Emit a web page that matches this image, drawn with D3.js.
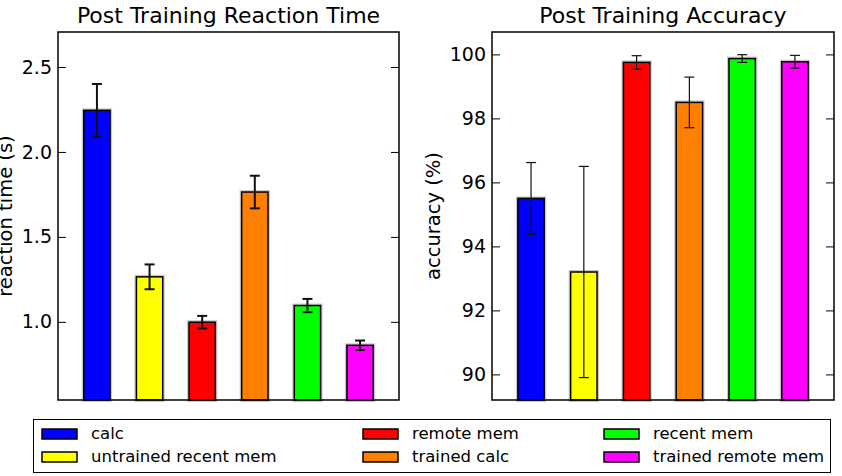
<!DOCTYPE html>
<html>
<head>
<meta charset="utf-8">
<script src="https://cdn.jsdelivr.net/npm/d3@7/dist/d3.min.js"></script>
<style>
  body { margin: 0; background: #fff; }
  svg { display: block; font-family: "DejaVu Sans", sans-serif; }
  .tick text { font-size: 19px; fill: #000; }
  .legend text { font-family: "DejaVu Sans", sans-serif; font-size: 16.5px; }
</style>
</head>
<body>
<svg id="chart" width="842" height="476"></svg>
<script>
'use strict';

var categories = ["calc", "untrained recent mem", "remote mem", "trained calc", "recent mem", "trained remote mem"];
var colors     = ["#0000ff", "#ffff00", "#ff0000", "#ff8000", "#00ff00", "#ff00ff"];

var rtValues  = [2.245, 1.265, 0.998, 1.764, 1.096, 0.862];
var rtErrors  = [0.155, 0.073, 0.037, 0.096, 0.039, 0.028];
var rtTicks   = [1.0, 1.5, 2.0, 2.5];

var accValues = [95.5, 93.2, 99.75, 98.5, 99.87, 99.77];
var accErrors = [1.12, 3.3, 0.21, 0.79, 0.12, 0.2];
var accTicks  = [90, 92, 94, 96, 98, 100];

var legendOrder = [0, 2, 4, 1, 3, 5];

var svg = d3.select("#chart");

function bar_panel(cfg) {
    var left = cfg.left, top = 32, width = cfg.width, height = 368;

    var g = svg.append("g").attr("transform", "translate(" + left + "," + top + ")");

    var x = d3.scalePoint().domain(d3.range(categories.length)).range([0, width]).padding(0.74);
    var y = d3.scaleLinear().domain(cfg.yDomain).range([height, 0]);
    var bw = x.step() * 0.5;

    // soft gray halo behind bars, as in the original raster
    g.selectAll("rect.halo")
        .data(cfg.values)
        .enter().append("rect")
            .attr("class", "halo")
            .attr("x", function(d, i){ return x(i) - bw / 2; })
            .attr("y", function(d){ return y(d); })
            .attr("width", bw)
            .attr("height", function(d){ return height - y(d); })
            .style("fill", "none")
            .style("stroke", "#c8c8c8")
            .style("stroke-width", 4);

    g.selectAll("rect.bar")
        .data(cfg.values)
        .enter().append("rect")
            .attr("class", "bar")
            .attr("x", function(d, i){ return x(i) - bw / 2; })
            .attr("y", function(d){ return y(d); })
            .attr("width", bw)
            .attr("height", function(d){ return height - y(d); })
            .style("fill", function(d, i){ return colors[i]; })
            .style("stroke", "#000")
            .style("stroke-width", 1.5);

    // error bars
    var eb = g.selectAll("g.err")
        .data(cfg.values)
        .enter().append("g")
            .attr("class", "err")
            .style("stroke", "#111")
            .style("stroke-width", cfg.errWidth);
    eb.append("line")
        .attr("x1", function(d, i){ return x(i); })
        .attr("x2", function(d, i){ return x(i); })
        .attr("y1", function(d, i){ return y(d + cfg.errors[i]); })
        .attr("y2", function(d, i){ return y(d - cfg.errors[i]); });
    [1, -1].forEach(function(s){
        eb.append("line")
            .attr("x1", function(d, i){ return x(i) - 5; })
            .attr("x2", function(d, i){ return x(i) + 5; })
            .attr("y1", function(d, i){ return y(d + s * cfg.errors[i]); })
            .attr("y2", function(d, i){ return y(d + s * cfg.errors[i]); });
    });

    // frame
    g.append("rect")
        .attr("width", width).attr("height", height)
        .style("fill", "none").style("stroke", "#000").style("stroke-width", 1.5);

    // axes with inward ticks on both sides
    var yl = g.append("g")
        .call(d3.axisLeft(y).tickValues(cfg.ticks).tickFormat(cfg.format).tickSize(-8).tickPadding(6));
    var yr = g.append("g").attr("transform", "translate(" + width + ",0)")
        .call(d3.axisRight(y).tickValues(cfg.ticks).tickSize(-8).tickFormat(""));
    [yl, yr].forEach(function(a){
        a.select(".domain").remove();
        a.selectAll("line").style("stroke", "#000");
        a.selectAll("text").style("font-family", "DejaVu Sans");
    });

    svg.append("text")
        .attr("x", left + width / 2).attr("y", 23)
        .attr("text-anchor", "middle")
        .style("font-size", "22px")
        .text(cfg.title);

    svg.append("text")
        .attr("transform", "translate(" + cfg.labelX + "," + (top + height / 2) + ") rotate(-90)")
        .attr("text-anchor", "middle")
        .attr("dy", "0.35em")
        .style("font-size", "19.5px")
        .text(cfg.ylabel);
}

bar_panel({
    left: 58, width: 341,
    yDomain: [0.54, 2.706],
    values: rtValues, errors: rtErrors, ticks: rtTicks,
    format: d3.format(".1f"),
    errWidth: 2,
    title: "Post Training Reaction Time",
    ylabel: "reaction time (s)",
    labelX: 5
});

bar_panel({
    left: 492, width: 342,
    yDomain: [89.2, 100.7],
    values: accValues, errors: accErrors, ticks: accTicks,
    format: d3.format("d"),
    errWidth: 1.2,
    title: "Post Training Accuracy",
    ylabel: "accuracy (%)",
    labelX: 433
});

// legend
var lg = svg.append("g").attr("class", "legend");
lg.append("rect")
    .attr("x", 33.5).attr("y", 419.5).attr("width", 797).attr("height", 53)
    .style("fill", "#fff").style("stroke", "#000").style("stroke-width", 1);

var colX = [42, 363, 604];
var rowY = [429, 452];
legendOrder.forEach(function(ci, k){
    var cx = colX[k % 3], ry = rowY[Math.floor(k / 3)];
    lg.append("rect")
        .attr("x", cx).attr("y", ry).attr("width", 35).attr("height", 10)
        .style("fill", colors[ci]).style("stroke", "#000").style("stroke-width", 1.5);
    lg.append("text")
        .attr("x", cx + 49).attr("y", ry + 10)
        .text(categories[ci]);
});
</script>
</body>
</html>
